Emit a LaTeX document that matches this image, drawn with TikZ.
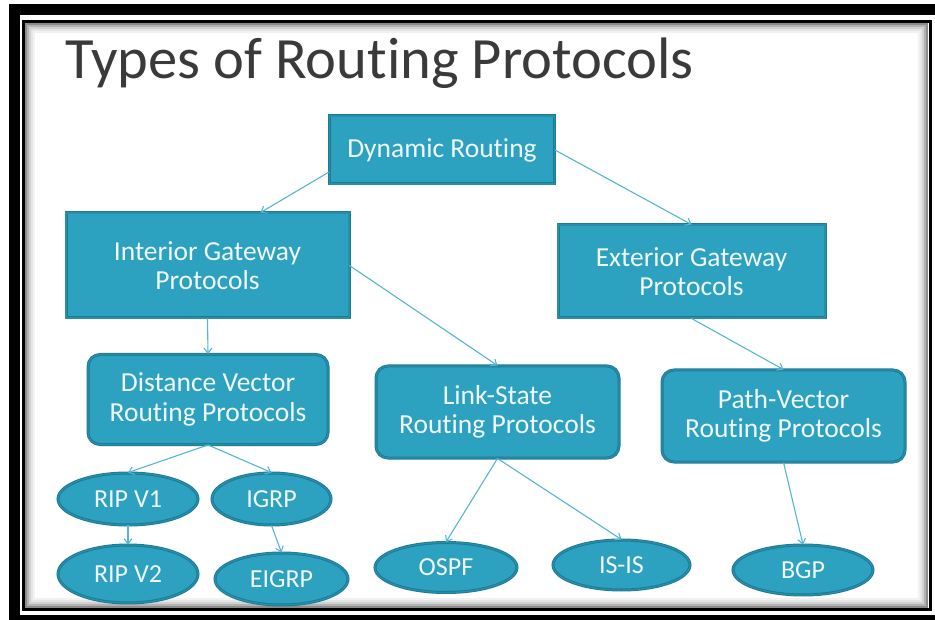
\documentclass[tikz,border=0pt]{standalone}
\usepackage{fontspec}
\setmainfont{Carlito}[Ligatures=NoCommon]
\usetikzlibrary{shapes.geometric,arrows.meta}
\definecolor{tealfill}{RGB}{44,161,192}
\definecolor{tealdark}{RGB}{30,122,148}
\definecolor{tealmid}{RGB}{40,143,171}
\definecolor{arrowcol}{RGB}{86,182,210}
\definecolor{titlecol}{RGB}{58,58,58}
\definecolor{boxtext}{RGB}{240,248,250}

\begin{document}
\begin{tikzpicture}[x=1pt, y=-1pt,
    box/.style={draw=tealdark, double=tealmid, double distance=1.2pt, line width=0.9pt, fill=tealfill, text=boxtext, align=center, inner sep=0pt, font=\fontsize{27.5}{29.5}\selectfont},
    rbox/.style={box, rounded corners=12pt},
    oval/.style={box, ellipse, font=\fontsize{26}{28}\selectfont},
    arrow/.style={-{Straight Barb[length=5pt,width=8pt]}, draw=arrowcol, line width=1.1pt}
]
\clip (0,0) rectangle (935,620);
\fill[white] (0,0) rectangle (935,620);

% Frame
\draw[line width=11pt] (14,9.5) rectangle (950,620.5);
\fill[white] (25,23) rectangle (928,608);
\foreach \i/\s in {0/45,2/30,4/18,6/10,8/5}
    \draw[black!\s, line width=2pt] (26+\i,24+\i) rectangle (927-\i,607-\i);
\draw[line width=3pt] (23.5,21.5) rectangle (930,609.5);

% Title
\node[anchor=base west, inner sep=0pt, text=titlecol, font=\fontsize{58.5}{60}\selectfont] (title) at (65,79) {Types of Routing Protocols};

% Boxes
\node[box, minimum width=225pt, minimum height=68pt] (dyn) at (442,150) {Dynamic Routing};
\node[box, minimum width=283pt, minimum height=105pt] (igp) at (207.5,265.5) {Interior Gateway\\Protocols};
\node[box, minimum width=267pt, minimum height=93pt] (egp) at (691.5,271.5) {Exterior Gateway\\Protocols};
\node[rbox, minimum width=240pt, minimum height=90pt] (dv) at (208,399.5) {Distance Vector\\Routing Protocols};
\node[rbox, minimum width=243pt, minimum height=92pt] (ls) at (497.5,412) {Link-State\\Routing Protocols};
\node[rbox, minimum width=243pt, minimum height=92pt] (pv) at (783.5,416) {Path-Vector\\Routing Protocols};

% Protocols
\node[oval, minimum width=140pt, minimum height=52pt] (rip1) at (128,499) {RIP V1};
\node[oval, minimum width=119pt, minimum height=52pt] (igrp) at (271.5,499) {IGRP};
\node[oval, minimum width=140pt, minimum height=58pt] (rip2) at (128,574) {RIP V2};
\node[oval, minimum width=133pt, minimum height=52pt] (eigrp) at (281.5,579) {EIGRP};
\node[oval, minimum width=142pt, minimum height=50pt] (ospf) at (446,567.5) {OSPF};
\node[oval, minimum width=137pt, minimum height=50pt] (isis) at (621.5,565) {IS-IS};
\node[oval, minimum width=140pt, minimum height=50pt] (bgp) at (803,570) {BGP};

% Arrows
\draw[arrow] ([yshift=-22pt]dyn.west) -- ([xshift=53pt]igp.north);
\draw[arrow] (dyn.east) -- (egp.north);
\draw[arrow] (igp.south) -- (dv.north);
\draw[arrow] (igp.east) -- (ls.north);
\draw[arrow] (egp.south) -- (pv.north);
\draw[arrow] (dv.south) -- (rip1.north);
\draw[arrow] (dv.south) -- (igrp.north);
\draw[arrow] (rip1.south) -- (rip2.north);
\draw[arrow] (igrp.south) -- (eigrp.north);
\draw[arrow] (ls.south) -- (ospf.north);
\draw[arrow] (ls.south) -- (isis.north);
\draw[arrow] (pv.south) -- (bgp.north);
\end{tikzpicture}
\end{document}
